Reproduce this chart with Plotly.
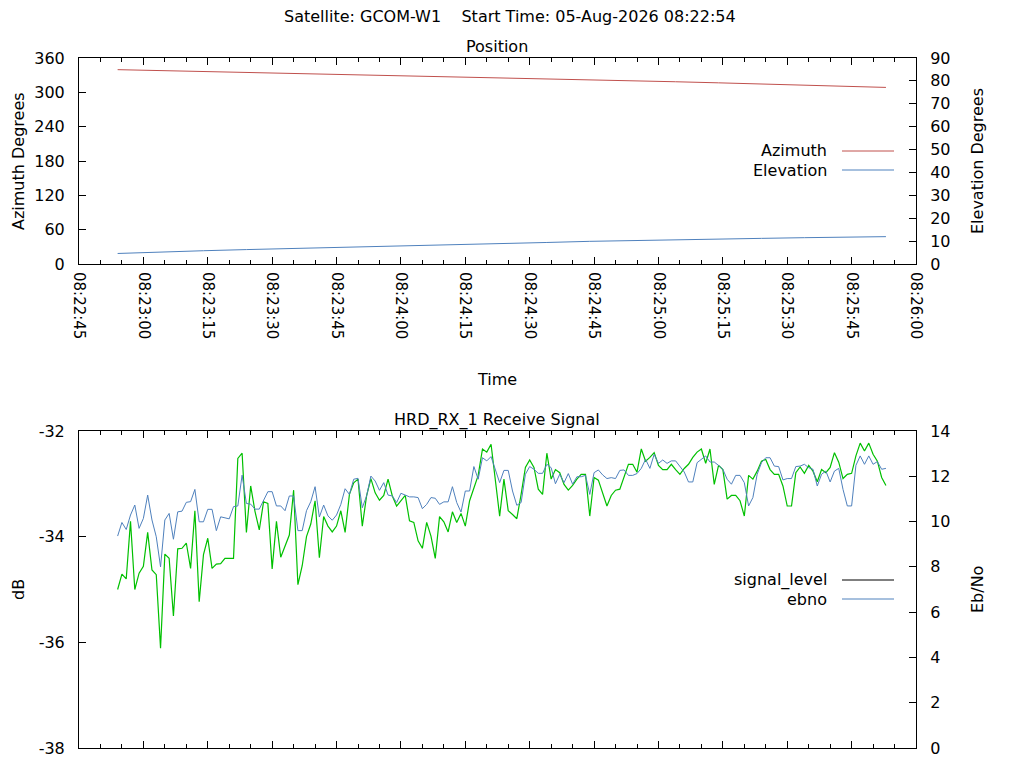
import pandas as pd
import plotly.graph_objects as go

# Pass info
satellite = "GCOM-W1"
start_time = "2026-08-05 08:22:54"
day = "2026-08-05"

# Position samples (every ~10 s)
pos_time = ["08:22:54", "08:23:04", "08:23:14", "08:23:24", "08:23:34", "08:23:44",
            "08:23:54", "08:24:04", "08:24:14", "08:24:24", "08:24:34", "08:24:44",
            "08:24:54", "08:25:04", "08:25:14", "08:25:24", "08:25:34", "08:25:44",
            "08:25:53"]
azimuth = [339.6, 338.0, 336.4, 335.1, 333.8, 332.3, 330.8, 329.2, 327.6, 325.9,
           324.1, 322.3, 320.5, 318.5, 316.6, 314.8, 312.8, 310.5, 308.6]
elevation = [4.6, 5.3, 5.8, 6.3, 6.7, 7.2, 7.6, 8.1, 8.6, 9.0,
             9.4, 9.9, 10.3, 10.7, 10.9, 11.2, 11.5, 11.75, 11.95]

# Receive signal, one sample per second from the start time
signal_level = [
    -35.00, -34.71, -34.80, -33.71, -35.00, -34.69, -34.56, -33.92, -34.63, -34.72,
    -36.11, -34.33, -34.41, -35.50, -34.23, -34.22, -34.12, -34.60, -33.51, -35.23,
    -34.34, -34.03, -34.60, -34.52, -34.51, -34.41, -34.41, -34.41, -32.52, -32.42,
    -33.92, -33.04, -33.52, -33.87, -33.34, -33.37, -34.61, -33.71, -34.39, -34.19,
    -33.97, -33.12, -34.91, -34.55, -34.00, -33.76,
    -33.32, -34.40, -33.62, -33.80, -33.91, -33.80, -33.51, -33.92, -33.20, -32.98,
    -32.91, -33.80, -33.23, -32.90, -33.17, -33.31, -33.22, -32.91, -33.23, -33.42,
    -33.32, -33.22, -33.70, -33.73, -34.08, -34.22, -33.73, -33.99, -34.41, -33.62,
    -33.72, -33.91, -33.53, -33.73, -33.56, -33.80, -33.32, -33.09, -32.84, -32.34,
    -32.40, -32.25, -32.91, -33.61,
    -32.91, -33.51, -33.58, -33.66, -33.20, -32.69, -32.55, -32.69, -33.10, -33.20,
    -32.42, -32.91, -32.73, -32.79, -33.01, -33.12, -33.03, -32.91, -32.82, -32.82,
    -33.61, -32.88, -32.93, -33.17, -33.42, -33.22, -33.12, -33.10, -32.85, -32.63,
    -32.63, -32.78, -32.34, -32.57, -32.50, -32.41, -32.65, -32.73, -32.73, -32.63,
    -32.73, -32.82, -32.71, -32.63, -32.50,
    -32.40, -32.34, -32.61, -32.34, -33.01, -32.65, -32.73, -33.29, -33.22, -33.22,
    -33.32, -33.61, -32.84, -32.91, -32.76, -32.57, -32.54, -32.73, -32.82, -32.82,
    -33.04, -33.42, -33.42, -32.79, -32.68, -32.80, -32.65, -32.76, -32.96, -32.73,
    -32.79, -32.69, -32.41, -32.59, -32.90, -32.82, -32.80, -32.47, -32.23, -32.38,
    -32.23, -32.44, -32.57, -32.88, -33.03,
]
ebno = [
    9.36, 9.96, 9.65, 10.29, 10.73, 9.70, 10.14, 11.17, 10.07, 9.33,
    8.00, 10.07, 10.36, 9.22, 10.43, 10.46, 10.85, 10.88, 11.42, 9.99,
    9.99, 10.54, 10.54, 9.60, 10.21, 10.18, 10.12, 10.66, 10.69, 12.05,
    10.80, 10.77, 10.55, 10.55, 10.95, 11.32, 11.32, 10.69, 10.69, 10.48,
    11.13, 11.13, 9.60, 9.60, 10.48, 10.88,
    11.54, 10.20, 10.73, 10.25, 10.06, 10.29, 10.76, 11.45, 11.20, 11.87,
    11.91, 10.61, 11.13, 12.01, 11.79, 11.38, 11.72, 11.17, 11.13, 10.84,
    11.25, 11.17, 11.09, 11.09, 11.06, 10.57, 10.76, 11.06, 11.03, 10.76,
    10.87, 10.87, 11.54, 10.84, 10.42, 11.35, 11.35, 12.43, 11.87, 12.82,
    12.68, 12.87, 12.31, 11.72,
    12.26, 12.26, 11.35, 10.72, 10.84, 12.09, 12.43, 12.31, 12.13, 12.13,
    12.53, 12.38, 11.67, 12.09, 11.72, 12.12, 11.65, 11.98, 11.98, 12.04,
    11.20, 12.16, 12.28, 12.06, 11.90, 11.94, 11.90, 12.26, 12.28, 12.04,
    12.04, 12.12, 12.35, 12.75, 12.35, 12.97, 12.57, 12.72, 12.57, 12.68,
    12.68, 12.45, 12.19, 11.75, 11.75,
    12.60, 12.75, 12.90, 12.63, 12.63, 12.48, 12.31, 11.87, 11.65, 12.04,
    12.04, 11.72, 10.69, 11.06, 12.09, 12.60, 12.82, 12.82, 12.45, 12.43,
    11.84, 11.90, 11.90, 12.43, 12.45, 12.53, 12.38, 12.31, 11.57, 12.09,
    12.23, 11.75, 12.23, 12.35, 11.42, 10.69, 10.69, 12.48, 12.90, 12.53,
    12.90, 12.53, 12.65, 12.31, 12.35,
]

# Tick labels for the dB axis (plain hyphen, like gnuplot)
db_ticks = [-38, -36, -34, -32]
db_labels = ["-38", "-36", "-34", "-32"]

pos_x = pd.to_datetime([f"{day} {t}" for t in pos_time])
sig_x = pd.date_range(start_time, periods=len(signal_level), freq="s")

RED = "#C0504D"
BLUE = "#4F81BD"
GREEN = "#00C000"
FONT = "DejaVu Sans"

# page has an 8px body margin, so the figure is drawn 8px in from the corner
OFF = 8
W, H = 1024 - OFF, 768 - OFF

# screen pixel -> paper fraction
def px(x):
    return (x - OFF) / W

def py(y):
    return 1 - (y - OFF) / H

x_dom = [px(79), px(916)]
top_dom = [py(264), py(58)]
bot_dom = [py(748), py(431)]
x_range = [f"{day} 08:22:45", f"{day} 08:26:00"]

fig = go.Figure()
fig.add_trace(go.Scatter(x=pos_x, y=azimuth, mode="lines", name="Azimuth",
                         line=dict(color=RED, width=1), xaxis="x", yaxis="y"))
fig.add_trace(go.Scatter(x=pos_x, y=elevation, mode="lines", name="Elevation",
                         line=dict(color=BLUE, width=1), xaxis="x", yaxis="y2"))
fig.add_trace(go.Scatter(x=sig_x, y=ebno, mode="lines", name="ebno",
                         line=dict(color=BLUE, width=1), xaxis="x2", yaxis="y4"))
fig.add_trace(go.Scatter(x=sig_x, y=signal_level, mode="lines", name="signal_level",
                         line=dict(color=GREEN, width=1.2), xaxis="x2", yaxis="y3"))

tick_font = dict(family=FONT, size=16, color="black")
common = dict(showline=True, linecolor="black", linewidth=1, showgrid=False,
              zeroline=False, ticks="inside", ticklen=7, tickcolor="black",
              automargin=False, tickfont=tick_font)
time_axis = dict(common, type="date", domain=x_dom, range=x_range,
                 dtick=15000, tick0=x_range[0], tickformat="%H:%M:%S", mirror="ticks",
                 minor=dict(ticks="inside", ticklen=4, dtick=5000, tick0=x_range[0],
                            tickcolor="black", showgrid=False))

fig.update_layout(
    width=W, height=H, template="none", showlegend=False,
    paper_bgcolor="white", plot_bgcolor="white",
    margin=dict(l=0, r=0, t=0, b=0),
    xaxis=dict(time_axis, anchor="y", tickangle=90, ticklabelstandoff=4,
               tickfont=dict(family=FONT, size=15, color="black")),
    yaxis=dict(common, domain=top_dom, anchor="x", range=[0, 360], dtick=60,
               ticklabelstandoff=10),
    yaxis2=dict(common, overlaying="y", side="right", anchor="x", range=[0, 90],
                dtick=10, ticklabelstandoff=10),
    xaxis2=dict(time_axis, anchor="y3", showticklabels=False),
    yaxis3=dict(common, domain=bot_dom, anchor="x2", range=[-38, -32],
                tickmode="array", tickvals=db_ticks, ticktext=db_labels,
                ticklabelstandoff=10),
    yaxis4=dict(common, overlaying="y3", side="right", anchor="x2", range=[0, 14],
                dtick=2, ticklabelstandoff=10),
)

# Titles and axis labels
text_font = dict(family=FONT, size=16, color="black")
labels = [
    (f"Satellite: {satellite}    Start Time: 05-Aug-2026 08:22:54", 510, 17, 0),
    ("Position", 497, 46, 0),
    ("HRD_RX_1 Receive Signal", 497, 420, 0),
    ("Time", 497, 379, 0),
    ("Azimuth Degrees", 18, 161, -90),
    ("Elevation Degrees", 977, 161, -90),
    ("dB", 18, 590, -90),
    ("Eb/No", 977, 590, -90),
]
for txt, x, y, ang in labels:
    fig.add_annotation(text=txt.replace("    ", "&nbsp;&nbsp;&nbsp;&nbsp;"),
                       x=px(x), y=py(y), xref="paper", yref="paper",
                       xanchor="center", yanchor="middle", showarrow=False,
                       textangle=ang, font=text_font, borderpad=0)

# gnuplot style key: text on the left, line sample on the right
key = [("Azimuth", RED, 151), ("Elevation", BLUE, 170),
       ("signal_level", "black", 580), ("ebno", BLUE, 599)]
for name, col, y in key:
    fig.add_annotation(text=name, x=px(829), y=py(y), xref="paper", yref="paper",
                       xanchor="right", yanchor="middle", showarrow=False,
                       font=text_font)
    fig.add_shape(type="line", xref="paper", yref="paper",
                  x0=px(842), x1=px(894), y0=py(y), y1=py(y),
                  line=dict(color=col, width=1))

fig.write_html("out.html")
